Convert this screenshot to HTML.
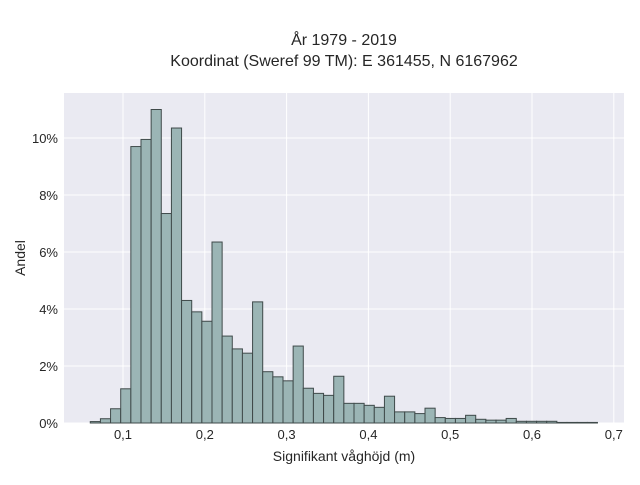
<!DOCTYPE html>
<html><head><meta charset="utf-8"><style>
body{margin:0;background:#fff;font-family:"Liberation Sans",sans-serif;}
svg text{font-family:"Liberation Sans",sans-serif;fill:#262626;}
</style></head><body>
<svg id="chart" width="640" height="480">
<text x="344" y="45" text-anchor="middle" font-size="16">År 1979 - 2019</text>
<text x="344" y="66" text-anchor="middle" font-size="16">Koordinat (Sweref 99 TM): E 361455, N 6167962</text>
<rect x="64" y="93" width="560" height="330" fill="#eaeaf2"/>
<g id="grid"></g><g id="bars"></g><g id="ticks"></g>
<text x="344" y="461" text-anchor="middle" font-size="14">Signifikant våghöjd (m)</text>
<text transform="translate(25,258) rotate(-90)" text-anchor="middle" font-size="14">Andel</text>
</svg>
<script>
const binStart = 0.06;
const binEnd = 0.68;
const values = [0.05,0.15,0.5,1.2,9.7,9.95,11.0,7.35,10.35,4.3,3.9,3.57,6.35,3.05,2.6,2.45,4.25,1.8,1.62,1.48,2.7,1.22,1.04,0.97,1.64,0.69,0.69,0.62,0.55,0.94,0.39,0.39,0.33,0.52,0.19,0.16,0.16,0.27,0.13,0.1,0.1,0.16,0.06,0.06,0.06,0.06,0.02,0.02,0.02,0.02];
const xTicks = [0.1,0.2,0.3,0.4,0.5,0.6,0.7];
const xTickLabels = ["0,1","0,2","0,3","0,4","0,5","0,6","0,7"];
const yTicks = [0,2,4,6,8,10];
const yTickLabels = ["0%","2%","4%","6%","8%","10%"];
const X = v => 123 + (v - 0.1) * 818;
const Y = v => 423 - v * 28.5;
const NS = "http://www.w3.org/2000/svg";
function mk(tag, attrs, parent, text){const e=document.createElementNS(NS,tag);for(const k in attrs)e.setAttribute(k,attrs[k]);if(text!==undefined)e.textContent=text;parent.appendChild(e);return e;}
const grid=document.getElementById('grid'),bars=document.getElementById('bars'),ticks=document.getElementById('ticks');
xTicks.forEach((t,i)=>{
  const l=mk('line',{x1:X(t),x2:X(t),y1:93,y2:423,stroke:'#fff','stroke-width':1},grid);
  
  
  const tx=mk('text',{x:X(t),y:439,'text-anchor':'middle','font-size':13},ticks,xTickLabels[i]);
  
  
});
yTicks.forEach((t,i)=>{
  const l=mk('line',{x1:64,x2:624,y1:Y(t),y2:Y(t),stroke:'#fff','stroke-width':1},grid);
  
  
  const tx=mk('text',{x:58,y:Y(t)+5,'text-anchor':'end','font-size':13},ticks,yTickLabels[i]);
  
  
});
const bw=(binEnd-binStart)/values.length;
values.forEach((v,i)=>{
  const x0=X(binStart+i*bw),x1=X(binStart+(i+1)*bw);
  const r=mk('rect',{x:x0,y:Y(v),width:x1-x0,height:Y(0)-Y(v),fill:'#9bb5b5',stroke:'#3f4a4a','stroke-width':1},bars);
  
  
});
</script>
</body></html>
